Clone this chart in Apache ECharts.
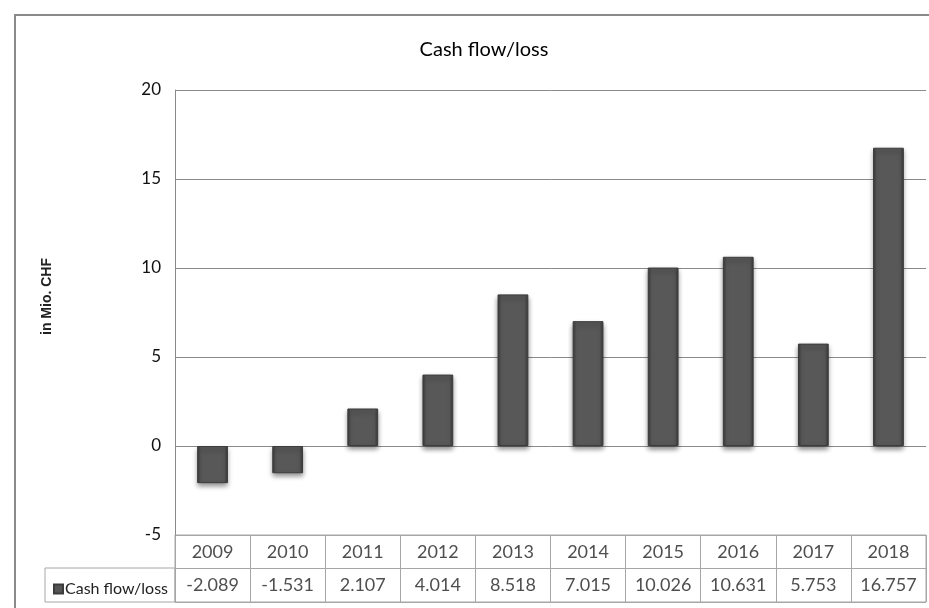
<!DOCTYPE html>
<html>
<head>
<meta charset="utf-8">
<script src="https://cdn.jsdelivr.net/npm/echarts@6/dist/echarts.min.js"></script>
<style>
html,body{margin:0;padding:0;background:#fff;}
#frame{position:absolute;left:14px;top:14px;width:930px;height:610px;border-left:2px solid #8a8a8a;border-top:2px solid #8a8a8a;box-sizing:border-box;}
#chart{position:absolute;left:0;top:0;width:929px;height:608px;}
</style>
</head>
<body>
<div id="frame"></div>
<div id="chart"></div>
<script>
const categories = ['2009','2010','2011','2012','2013','2014','2015','2016','2017','2018'];
const cashFlow = [-2.089, -1.531, 2.107, 4.014, 8.518, 7.015, 10.026, 10.631, 5.753, 16.757];
const seriesName = 'Cash flow/loss';
const chartTitle = 'Cash flow/loss';
const yAxisName = 'in Mio. CHF';
const yMin = -5, yMax = 20, yStep = 5;

const FONT = "Lato, 'Open Sans', sans-serif";
const fmt = v => v.toFixed(3);

const chart = echarts.init(document.getElementById('chart'));
chart.setOption({
  animation: false,
  textStyle: { fontFamily: FONT },
  title: {
    text: chartTitle, left: 479, textAlign: 'center', top: 35,
    textStyle: { fontFamily: FONT, fontSize: 20, fontWeight: 'normal', color: '#000' }
  },
  legend: {
    left: 48, top: 576, icon: 'rect', itemWidth: 9, itemHeight: 9, itemGap: 4,
    textStyle: { fontFamily: FONT, fontSize: 16, color: '#222', padding: [0,0,0,-3] },
    data: [{ name: seriesName, itemStyle: { color: '#555' } }]
  },
  grid: [
    { left: 175, right: 3, top: 90, bottom: 73 },
    { left: 175, right: 3, top: 535, bottom: 6, show: true, borderColor: '#a6a6a6', borderWidth: 1 },
    { left: 45, width: 130, top: 568, bottom: 6, show: true, borderColor: '#a6a6a6', borderWidth: 1 }
  ],
  xAxis: [
    { type: 'category', gridIndex: 0, data: categories, axisLine: { show: false }, axisTick: { show: false }, axisLabel: { show: false } },
    { type: 'category', gridIndex: 1, data: categories, boundaryGap: true,
      axisLine: { show: false }, axisTick: { show: false }, axisLabel: { show: false },
      splitLine: { show: true, lineStyle: { color: '#a6a6a6', width: 1 } } },
    { type: 'value', gridIndex: 2, show: false }
  ],
  yAxis: [
    { type: 'value', gridIndex: 0, min: yMin, max: yMax, interval: yStep,
      name: yAxisName, nameLocation: 'middle', nameGap: 121,
      nameTextStyle: { fontFamily: "'Liberation Sans', Arial, sans-serif", fontSize: 14, fontWeight: 'bold', color: '#222', padding: [0, 0, 0, 32] },
      axisLine: { show: true, lineStyle: { color: '#8a8a8a', width: 1 } },
      axisTick: { show: false },
      axisLabel: { fontFamily: FONT, fontSize: 17, color: '#111', margin: 14 },
      splitLine: { show: true, lineStyle: { color: '#8a8a8a', width: 1 } } },
    { type: 'value', gridIndex: 1, min: 0, max: 2, interval: 1,
      axisLine: { show: false }, axisTick: { show: false }, axisLabel: { show: false },
      splitLine: { show: true, lineStyle: { color: '#a6a6a6', width: 1 } } },
    { type: 'value', gridIndex: 2, show: false }
  ],
  series: [
    {
      name: seriesName, type: 'bar', xAxisIndex: 0, yAxisIndex: 0,
      data: cashFlow, barWidth: '41%',
      itemStyle: {
        color: new echarts.graphic.LinearGradient(0, 0, 1, 0, [
          { offset: 0, color: '#3a3a3a' },
          { offset: 0.12, color: '#585858' },
          { offset: 0.88, color: '#585858' },
          { offset: 1, color: '#3a3a3a' }
        ]),
        borderColor: '#3c3c3c', borderWidth: 1,
        shadowColor: 'rgba(0,0,0,0.45)', shadowBlur: 5, shadowOffsetY: 3
      }
    },
    {
      type: 'scatter', xAxisIndex: 1, yAxisIndex: 1, symbolSize: 2,
      itemStyle: { color: 'rgba(0,0,0,0)' }, silent: true,
      data: categories.map(c => [c, 1.5]),
      label: { show: true, position: 'inside', formatter: p => p.value[0],
        fontFamily: FONT, fontSize: 18, color: '#222' }
    },
    {
      type: 'scatter', xAxisIndex: 1, yAxisIndex: 1, symbolSize: 2,
      itemStyle: { color: 'rgba(0,0,0,0)' }, silent: true,
      data: categories.map((c, i) => [c, 0.5, cashFlow[i]]),
      label: { show: true, position: 'inside', formatter: p => fmt(p.value[2]),
        fontFamily: FONT, fontSize: 18, color: '#222' }
    }
  ]
});
</script>
</body>
</html>
